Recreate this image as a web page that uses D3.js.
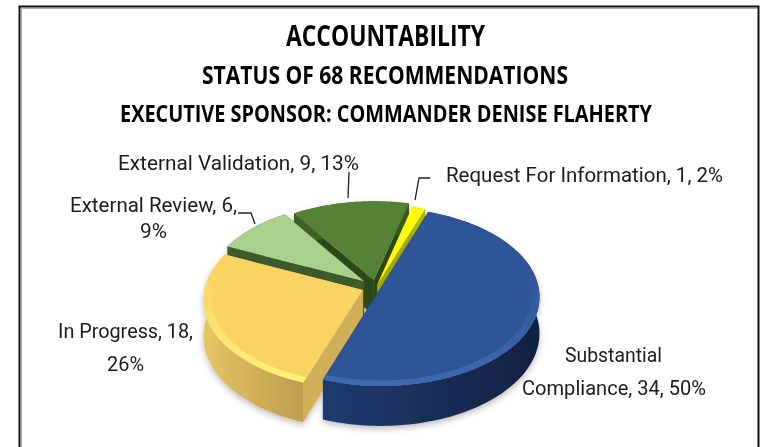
<!DOCTYPE html>
<html>
<head>
<meta charset="utf-8">
<script src="https://cdn.jsdelivr.net/npm/d3@7"></script>
<style>
  html, body { margin: 0; padding: 0; background: #fff; }
  svg { display: block; font-family: "Open Sans", sans-serif; filter: blur(0.45px); }
  .label { font-family: Roboto, sans-serif; }
</style>
</head>
<body>
<div id="chart"></div>
<script>
var categories = ["Substantial Compliance", "In Progress", "External Review", "External Validation", "Request For Information"];
var counts = [34, 18, 6, 9, 1];
var percents = ["50%", "26%", "9%", "13%", "2%"];
var titles = ["ACCOUNTABILITY", "STATUS OF 68 RECOMMENDATIONS", "EXECUTIVE SPONSOR: COMMANDER DENISE FLAHERTY"];

var width = 761, height = 447;

// slice looks, same order as categories
var topColors = ["#2f5597", "#f9d462", "#a9d18e", "#548235", "#ffff00"];
var bevelColors = ["#3f69b0", "#fff27c", "#bfe0a8", "#6b9b48", "#ffff66"];
var wallLight = ["#1f3a6e", "#e6c665", "#3d5a2a", "#3f6128", "#caca00"];
var wallDark = ["#10203f", "#b8964a", "#3d5a2a", "#2c451b", "#8f8f00"];
var cutColors = ["#1c3563", "#d1ae58", "#3d5a2a", "#2b4a18", "#a6a600"];
var explode = [0.03, 0.09, 0.1, 0.08, 0.03];
var paintOrder = [3, 4, 2, 1, 0];

var titleLayout = [
  { size: 28, x1: 286, x2: 485, y: 46 },
  { size: 25, x1: 202, x2: 568, y: 84 },
  { size: 24, x1: 120, x2: 652, y: 122 }
];

var labelLayout = [
  [{ t: "Substantial", x1: 565, x2: 662, y: 362 }, { t: "Compliance, 34, 50%", x1: 522, x2: 706, y: 395 }],
  [{ t: "In Progress, 18,", x1: 58, x2: 193, y: 338 }, { t: "26%", x1: 107, x2: 144, y: 371 }],
  [{ t: "External Review, 6,", x1: 70, x2: 237, y: 212 }, { t: "9%", x1: 140, x2: 167, y: 238 }],
  [{ t: "External Validation, 9, 13%", x1: 118, x2: 359, y: 170 }],
  [{ t: "Request For Information, 1, 2%", x1: 446, x2: 723, y: 182 }]
];

var leaders = [
  [[349, 172], [348, 198]],
  [[238, 213], [251, 213], [255, 224]],
  [[415, 200], [419, 178], [430, 178]]
];

var svg = d3.select("#chart").append("svg")
  .attr("width", width)
  .attr("height", height);

var defs = svg.append("defs");

// frame, runs off the bottom of the picture
svg.append("path")
  .attr("d", "M19.5," + height + "V6.5H758.5V" + height)
  .attr("fill", "none")
  .attr("stroke", "#111")
  .attr("stroke-width", 2);
svg.append("path")
  .attr("d", "M21.5," + height + "V8.5H757")
  .attr("fill", "none")
  .attr("stroke", "#aaa")
  .attr("stroke-width", 1);

function fitText(sel, d, weight, size, fill) {
  return sel.append("text")
    .attr("x", d.x1)
    .attr("y", d.y)
    .attr("textLength", d.x2 - d.x1)
    .attr("lengthAdjust", "spacingAndGlyphs")
    .attr("font-size", size)
    .attr("font-weight", weight)
    .attr("fill", fill)
    .text(d.t);
}

titles.forEach(function(t, i) {
  var l = titleLayout[i];
  fitText(svg, { t: t, x1: l.x1, x2: l.x2, y: l.y }, 700, l.size, "#000");
});

// pie angles
var startDeg = 19.4;
var pie = d3.pie()
  .sort(null)
  .value(function(d) { return d; })
  .startAngle(startDeg * Math.PI / 180)
  .endAngle((startDeg + 360) * Math.PI / 180);
var arcs = pie(counts);

// disc to screen with a little perspective, front of the disc is bigger
var cx = 376, cy = 287, rx = 158, ry = 88, depth = 36, persp = 0.1;
function project(X, Y, z) {
  var s = 1 / (1 - persp * Y);
  return [cx + rx * X * s, cy + ry * Y * s + z * s];
}

var line = d3.line();

function rimPoints(a, off, r, z) {
  var n = Math.max(4, Math.ceil((a.endAngle - a.startAngle) * 40));
  return d3.range(n + 1).map(function(k) {
    var t = a.startAngle + (a.endAngle - a.startAngle) * k / n;
    return project(off[0] + r * Math.sin(t), off[1] - r * Math.cos(t), z);
  });
}

var pieG = svg.append("g");

defs.append("filter")
  .attr("id", "pieShadow")
  .attr("x", "-10%").attr("y", "-10%").attr("width", "120%").attr("height", "125%")
  .append("feDropShadow")
  .attr("dx", 0).attr("dy", 3)
  .attr("stdDeviation", 3)
  .attr("flood-color", "#000")
  .attr("flood-opacity", 0.25);
pieG.attr("filter", "url(#pieShadow)");

paintOrder.forEach(function(i) {
  var a = arcs[i];
  var mid = (a.startAngle + a.endAngle) / 2;
  var off = [explode[i] * Math.sin(mid), -explode[i] * Math.cos(mid)];
  var apexTop = project(off[0], off[1], 0);
  var apexBot = project(off[0], off[1], depth);
  var rimTop = rimPoints(a, off, 1, 0);
  var rimBot = rimPoints(a, off, 1, depth);

  var wallGrad = defs.append("linearGradient")
    .attr("id", "wall" + i)
    .attr("gradientUnits", "userSpaceOnUse")
    .attr("x1", 200).attr("x2", 545).attr("y1", 0).attr("y2", 0);
  if (i === 1) {
    wallGrad.append("stop").attr("offset", 0).attr("stop-color", wallLight[i]);
    wallGrad.append("stop").attr("offset", 0.35).attr("stop-color", wallDark[i]);
  } else {
    wallGrad.append("stop").attr("offset", 0.4).attr("stop-color", wallLight[i]);
    wallGrad.append("stop").attr("offset", 1).attr("stop-color", wallDark[i]);
  }

  // cut faces
  [0, rimTop.length - 1].forEach(function(k) {
    pieG.append("path")
      .attr("d", line([apexTop, rimTop[k], rimBot[k], apexBot]) + "Z")
      .attr("fill", cutColors[i]);
  });

  // outer wall
  pieG.append("path")
    .attr("d", line(rimTop.concat(rimBot.slice().reverse())) + "Z")
    .attr("fill", "url(#wall" + i + ")");

  // top face
  pieG.append("path")
    .attr("d", line([apexTop].concat(rimTop)) + "Z")
    .attr("fill", topColors[i]);

  // bevel along the rim, fades out toward the back
  var bevelGrad = defs.append("linearGradient")
    .attr("id", "bevel" + i)
    .attr("gradientUnits", "userSpaceOnUse")
    .attr("x1", 0).attr("x2", 0).attr("y1", 270).attr("y2", 385);
  bevelGrad.append("stop").attr("offset", 0).attr("stop-color", bevelColors[i]).attr("stop-opacity", 0);
  bevelGrad.append("stop").attr("offset", 1).attr("stop-color", bevelColors[i]).attr("stop-opacity", 1);

  pieG.append("path")
    .attr("d", line(rimTop.concat(rimPoints(a, off, 0.95, 0).reverse())) + "Z")
    .attr("fill", "url(#bevel" + i + ")");
});

// leader lines
svg.selectAll("path.leader")
  .data(leaders)
  .enter().append("path")
  .attr("class", "leader")
  .attr("d", function(d) { return line(d); })
  .attr("fill", "none")
  .attr("stroke", "#222")
  .attr("stroke-width", 1.3);

// data labels
labelLayout.forEach(function(rows) {
  rows.forEach(function(r) {
    fitText(svg, r, 400, 21, "#1c1c1c").attr("class", "label");
  });
});
</script>
</body>
</html>
